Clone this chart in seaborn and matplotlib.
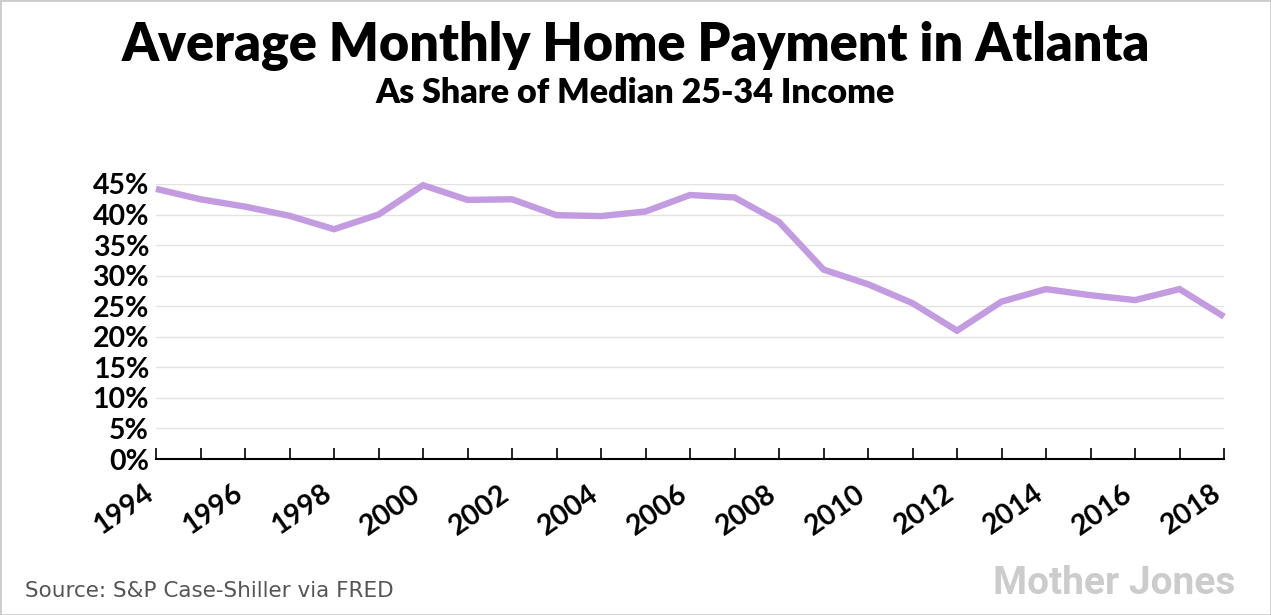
import pandas as pd
import matplotlib.pyplot as plt
import matplotlib.transforms as mtransforms
import seaborn as sns
from matplotlib.ticker import FuncFormatter, MultipleLocator

# share of median 25-34 income (percent)
years = list(range(1994, 2019))
share = [44.2, 42.5, 41.3, 39.8, 37.6, 40.0, 44.8, 42.4, 42.5, 39.9,
         39.75, 40.5, 43.2, 42.8, 38.8, 31.0, 28.6, 25.5, 21.0, 25.75,
         27.8, 26.8, 26.0, 27.8, 23.3]
tick_years = list(range(1994, 2019, 2))

TITLE = "Average Monthly Home Payment in Atlanta"
SUBTITLE = "As Share of Median 25-34 Income"
SOURCE = "Source: S&P Case-Shiller via FRED"
LINE_COLOR = "#c39be0"


def main():
    sns.set_theme(style="white")
    plt.rcParams["font.family"] = ["Lato", "DejaVu Sans"]

    df = pd.DataFrame({"year": years, "share": share})

    fig = plt.figure(figsize=(12.71, 6.15), dpi=100)
    ax = fig.add_axes([156 / 1271, 1 - 459 / 615, (1224 - 156) / 1271, (459 - 184) / 615])

    sns.lineplot(data=df, x="year", y="share", ax=ax, color=LINE_COLOR,
                 linewidth=4.6, clip_on=False, solid_capstyle="butt",
                 solid_joinstyle="miter")

    ax.set_xlim(1994, 2018)
    ax.set_ylim(0, 45)
    ax.yaxis.set_major_locator(MultipleLocator(5))
    ax.yaxis.set_major_formatter(FuncFormatter(lambda v, _: f"{v:.0f}%"))
    ax.set_xticks(tick_years)
    ax.set_xticks(years, minor=True)
    ax.set_xlabel("")
    ax.set_ylabel("")

    ax.grid(axis="y", color="#e3e3e3", linewidth=1.0)
    ax.grid(axis="x", visible=False)
    ax.set_axisbelow(True)
    for side in ["top", "right", "left"]:
        ax.spines[side].set_visible(False)
    ax.spines["bottom"].set_color("black")
    ax.spines["bottom"].set_linewidth(1.5)

    ax.tick_params(axis="x", which="both", direction="in", length=8,
                   width=1.2, color="black", bottom=True, pad=6)
    ax.tick_params(axis="y", length=0, pad=5)
    for lab in ax.get_yticklabels():
        lab.set_fontsize(20.5)
        lab.set_fontweight("bold")
        lab.set_color("black")
    offset = mtransforms.ScaledTranslation(0.02, -0.13, fig.dpi_scale_trans)
    for lab in ax.get_xticklabels():
        lab.set_fontsize(20.5)
        lab.set_fontweight("bold")
        lab.set_color("black")
        lab.set_rotation(35)
        lab.set_ha("right")
        lab.set_va("top")
        lab.set_transform(lab.get_transform() + offset)

    fig.text(0.5, 1 - 46 / 615, TITLE, ha="center", va="center",
             fontsize=37.5, fontweight="heavy", color="black")
    fig.text(0.5, 1 - 93 / 615, SUBTITLE, ha="center", va="center",
             fontsize=24.5, fontweight="heavy", color="black")
    fig.text(25 / 1271, 1 - 591 / 615, SOURCE, ha="left", va="center",
             fontsize=15.5, color="#555555", family=["DejaVu Sans"])
    fig.text(1235 / 1271, 1 - 583 / 615, "Mother Jones", ha="right", va="center",
             fontsize=28, fontweight="bold", color="#cccccc",
             family=["Roboto", "DejaVu Sans"])

    fig.patches.append(plt.Rectangle((0, 0), 1, 1, transform=fig.transFigure,
                                     fill=False, edgecolor="#cccccc", linewidth=2))

    fig.savefig("out.png", dpi=100, facecolor="white")
    plt.close(fig)


if __name__ == "__main__":
    main()
